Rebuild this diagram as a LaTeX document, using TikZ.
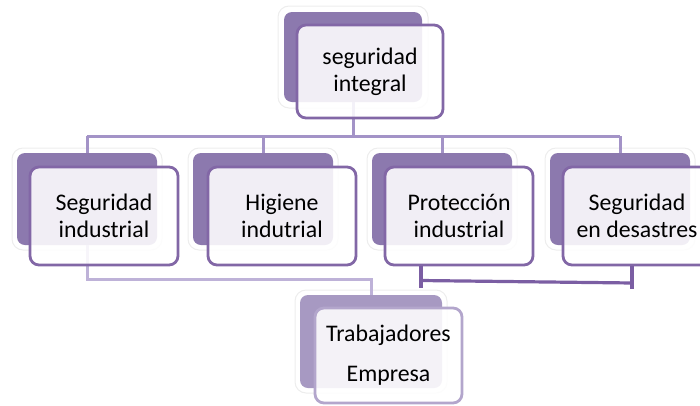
\documentclass[tikz,border=0pt]{standalone}
\usepackage{fontspec}
\setmainfont{Carlito}
\begin{document}
\begin{tikzpicture}[x=1pt,y=-1pt]
\definecolor{backc}{HTML}{8C79AE}
\definecolor{frontc}{HTML}{8267A6}
\definecolor{backl}{HTML}{A799C2}
\definecolor{frontl}{HTML}{B3A6CC}
\definecolor{connc}{HTML}{A393C7}
\definecolor{connl}{HTML}{BEB2D8}
\definecolor{darkc}{HTML}{7B5EA3}
\tikzset{
  backbox/.style={rectangle, rounded corners=8pt, fill=backc, inner sep=0pt,
    minimum width=140pt, minimum height=92pt},
  glow/.style={rectangle, rounded corners=11pt, fill=white, draw=black!7, line width=1pt, inner sep=0pt,
    minimum width=150pt, minimum height=102pt},
  frontbox/.style={rectangle, rounded corners=9pt, draw=frontc, line width=2.8pt, fill=white,
    fill opacity=0.88, text opacity=1, minimum width=148pt, minimum height=98pt,
    align=center, text=black, inner sep=0pt, font=\fontsize{23.8}{27}\selectfont},
  conn/.style={draw=connc, line width=3pt},
  connlight/.style={draw=connl, line width=3pt},
  conndark/.style={draw=darkc, line width=3.2pt},
}
\useasboundingbox (0,0) rectangle (700,405);
% glows
\node[glow] at (353,57) {};
\foreach \x in {87,263,442,620} \node[glow] at (\x,199) {};
\node[glow, minimum width=152pt, minimum height=103pt] at (371,341.5) {};
% back boxes
\node[backbox, minimum width=138pt, minimum height=90pt] (tb) at (353,57) {};
\node[backbox] (b1) at (87,199) {};
\node[backbox] (b2) at (263,199) {};
\node[backbox] (b3) at (442,199) {};
\node[backbox] (b4) at (620,199) {};
\node[backbox, fill=backl, minimum width=142pt, minimum height=93pt] (bb) at (371,341.5) {};
% connectors
\coordinate (h) at (0,136);
\draw[conn] (tb.south) -- (tb.south |- h);
\draw[conn] (b1.north |- h) -- (b4.north |- h);
\foreach \n in {b1,b2,b3,b4} \draw[conn] (\n.north) -- (\n.north |- h);
\coordinate (l) at (0,279);
\draw[connlight] (b1.south) -- (b1.south |- l) -| (bb.north);
% front boxes
\node[frontbox, minimum width=146pt, minimum height=93pt] (tf) at (370,71.5) {seguridad\\integral};
\node[frontbox] (f1) at (104,216) {Seguridad\\industrial};
\node[frontbox] (f2) at (282,216) {Higiene\\indutrial};
\node[frontbox] (f3) at (459,216) {Protección\\industrial};
\node[frontbox] (f4) at (637,216) {Seguridad\\en desastres};
\node[frontbox, draw=frontl, minimum width=147pt, minimum height=95pt,
  font=\fontsize{23.8}{40}\selectfont] (fb) at (388.5,355.5) {Trabajadores\\Empresa};
% dark connector
\coordinate (d1) at (421,288);
\coordinate (d2) at (421,280.5);
\coordinate (d3) at (633,283);
\coordinate (d4) at (632,289);
\draw[conndark] (f3.south -| d1) -- (d1);
\draw[conndark] (d2) -- (d3);
\draw[conndark] (f4.south -| d4) -- (d4);
\end{tikzpicture}
\end{document}
